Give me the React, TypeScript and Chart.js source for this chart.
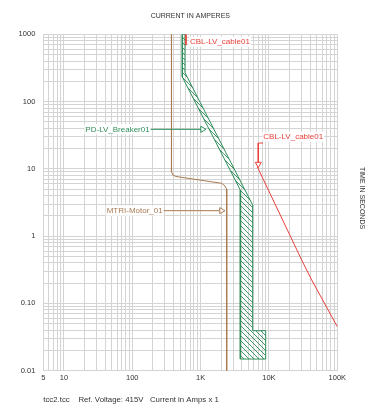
import React, { useEffect, useRef } from 'react';
import { Chart, registerables } from 'chart.js';

Chart.register(...registerables);

// ---- axis ticks ----
const xTickValues = [5, 10, 100, 1000, 10000, 100000];
const xTickLabels = ['5', '10', '100', '1K', '10K', '100K'];
const yTickValues = [0.01, 0.1, 1, 10, 100, 1000];
const yTickLabels = ['0.01', '0.10', '1', '10', '100', '1000'];

// ---- motor curve (MTRI-Motor_01) ----
const motorCurrent = [375, 375, 394, 437, 2036, 2275, 2410, 2410];
const motorTime = [1000, 9.08, 8.1, 7.7, 6.1, 5.56, 4.97, 0.01];

// ---- breaker band (PD-LV_Breaker01), closed outline ----
const breakerCurrent = [540, 540, 3810, 3810, 8960, 8960, 5780, 5780, 591, 591, 540];
const breakerTime = [1000, 232, 4.85, 0.0149, 0.0149, 0.0393, 0.0393, 2.9, 269, 1000, 1000];

// ---- cable damage curve (CBL-LV_cable01) ----
const cableCurrent = [6760, 10350, 30100, 42200, 100000];
const cableTime = [10.7, 4.33, 0.442, 0.223, 0.045];
const cableTopCurrent = [611, 611];
const cableTopTime = [1000, 690];

// ---- leaders ----
const breakerLeaderCurrent = [182, 1067];
const breakerLeaderTime = [38.7, 38.7];
const motorLeaderCurrent = [282, 2023];
const motorLeaderTime = [2.39, 2.39];
const cableLeaderCurrent = [8190, 6980, 6980];
const cableLeaderTime = [24.2, 24.2, 11.8];

// ---- curve labels ----
const labelTexts = ['CBL-LV_cable01', 'CBL-LV_cable01', 'PD-LV_Breaker01', 'MTRI-Motor_01'];
const labelCurrent = [700, 8260, 180, 279];
const labelTime = [776, 30.1, 38.7, 2.39];
const labelAlign = ['left', 'left', 'right', 'right'];

const titleText = 'CURRENT IN AMPERES';
const yTitleText = 'TIME IN SECONDS';
const footerText = 'tcc2.tcc    Ref. Voltage: 415V   Current in Amps x 1';

const RED = '#e8403a';
const GREEN = '#2f8f5a';
const BROWN = '#a87a52';
const GRID = '#d4d4d4';
const FONT = "'Liberation Sans', Arial, sans-serif";
const labelColors = [RED, RED, GREEN, BROWN];

function gridValues(min: number, max: number): number[] {
  const out: number[] = [];
  const e0 = Math.floor(Math.log10(min));
  const e1 = Math.ceil(Math.log10(max));
  for (let e = e0; e <= e1; e++) {
    for (let m = 1; m <= 9; m++) {
      const v = Number((m * Math.pow(10, e)).toPrecision(6));
      if (v >= min * 0.9999 && v <= max * 1.0001) out.push(v);
    }
  }
  return out;
}

function pts(xs: number[], ys: number[]) {
  return xs.map((x, i) => ({ x, y: ys[i] }));
}

function labelFor(values: number[], labels: string[]) {
  return (value: any) => {
    const v = Number(value);
    const i = values.findIndex((t) => Math.abs(t - v) / t < 1e-6);
    return i >= 0 ? labels[i] : '';
  };
}

export default function App() {
  const ref = useRef<HTMLCanvasElement | null>(null);

  useEffect(() => {
    const canvas = ref.current;
    if (!canvas) return;

    // hatch pattern for breaker band
    const pc = document.createElement('canvas');
    pc.width = 5;
    pc.height = 5;
    const pctx = pc.getContext('2d')!;
    pctx.strokeStyle = GREEN;
    pctx.lineWidth = 0.9;
    pctx.beginPath();
    pctx.moveTo(0, 0);
    pctx.lineTo(5, 5);
    pctx.moveTo(-1, 4);
    pctx.lineTo(1, 6);
    pctx.moveTo(4, -1);
    pctx.lineTo(6, 1);
    pctx.stroke();
    const pattern = canvas.getContext('2d')!.createPattern(pc, 'repeat')!;

    const xGrid = gridValues(5, 100000);
    const yGrid = gridValues(0.01, 1000);

    const textPlugin = {
      id: 'tccText',
      afterDatasetsDraw(chart: any) {
        const { ctx, chartArea, scales } = chart;
        const xs = scales.x;
        const ys = scales.y;
        ctx.save();
        // curve labels
        ctx.font = `8px ${FONT}`;
        ctx.textBaseline = 'middle';
        labelTexts.forEach((t, i) => {
          const px = xs.getPixelForValue(labelCurrent[i]);
          const py = ys.getPixelForValue(labelTime[i]);
          const w = ctx.measureText(t).width;
          const left = labelAlign[i] === 'left' ? px : px - w;
          ctx.fillStyle = '#ffffff';
          ctx.fillRect(left - 1, py - 5, w + 2, 10);
          ctx.fillStyle = labelColors[i];
          ctx.textAlign = 'left';
          ctx.fillText(t, left, py + 0.5);
        });
        // title
        ctx.fillStyle = '#333333';
        ctx.font = `7px ${FONT}`;
        ctx.textAlign = 'center';
        ctx.fillText(titleText, (chartArea.left + chartArea.right) / 2, chartArea.top - 18.5);
        // right axis title
        ctx.save();
        ctx.translate(chartArea.right + 24.4, (chartArea.top + chartArea.bottom) / 2 - 4.5);
        ctx.rotate(Math.PI / 2);
        ctx.fillText(yTitleText, 0, 0);
        ctx.restore();
        // footer
        ctx.font = `7.8px ${FONT}`;
        ctx.textAlign = 'left';
        ctx.fillText(footerText, chartArea.left, chartArea.bottom + 29);
        ctx.restore();
      },
    };

    const baseLine = {
      showLine: true,
      fill: false,
      borderWidth: 1,
      pointRadius: 0,
      pointHoverRadius: 0,
      tension: 0,
    };

    const chart = new Chart(canvas, {
      type: 'scatter',
      data: {
        datasets: [
          {
            ...baseLine,
            label: 'Breaker leader',
            data: pts(breakerLeaderCurrent, breakerLeaderTime),
            borderColor: GREEN,
            pointRadius: [0, 3.5],
            pointStyle: 'triangle',
            rotation: 90,
            pointBackgroundColor: '#ffffff',
            pointBorderColor: GREEN,
            pointBorderWidth: 1,
          },
          {
            ...baseLine,
            label: 'Motor leader',
            data: pts(motorLeaderCurrent, motorLeaderTime),
            borderColor: BROWN,
            pointRadius: [0, 3.5],
            pointStyle: 'triangle',
            rotation: 90,
            pointBackgroundColor: '#ffffff',
            pointBorderColor: BROWN,
            pointBorderWidth: 1,
          },
          {
            ...baseLine,
            label: 'Cable leader',
            data: pts(cableLeaderCurrent, cableLeaderTime),
            borderColor: RED,
            pointRadius: [0, 0, 3.5],
            pointStyle: 'triangle',
            rotation: 180,
            pointBackgroundColor: '#ffffff',
            pointBorderColor: RED,
            pointBorderWidth: 1,
          },
          {
            ...baseLine,
            label: 'CBL-LV_cable01',
            data: pts(cableCurrent, cableTime),
            borderColor: RED,
          },
          {
            ...baseLine,
            label: 'CBL-LV_cable01 top',
            data: pts(cableTopCurrent, cableTopTime),
            borderColor: RED,
          },
          {
            ...baseLine,
            label: 'PD-LV_Breaker01',
            data: pts(breakerCurrent, breakerTime),
            borderColor: GREEN,
            backgroundColor: pattern,
            fill: 'shape',
          },
          {
            ...baseLine,
            label: 'MTRI-Motor_01',
            data: pts(motorCurrent, motorTime),
            borderColor: BROWN,
          },
        ],
      },
      options: {
        animation: false,
        responsive: false,
        devicePixelRatio: 1,
        events: [],
        layout: { padding: { top: 34.3, right: 32.7, left: 0, bottom: 0 } },
        plugins: {
          legend: { display: false },
          tooltip: { enabled: false },
          title: { display: false },
        },
        scales: {
          x: {
            type: 'logarithmic',
            position: 'bottom',
            min: 5,
            max: 100000,
            afterBuildTicks: (axis: any) => {
              axis.ticks = xGrid.map((v) => ({ value: v }));
            },
            afterFit: (axis: any) => {
              axis.height = 39.3;
            },
            grid: { color: GRID, lineWidth: 1, drawTicks: false },
            border: { display: false },
            ticks: {
              autoSkip: false,
              maxRotation: 0,
              minRotation: 0,
              padding: 3,
              color: '#333333',
              font: { family: FONT, size: 7.5 },
              callback: labelFor(xTickValues, xTickLabels),
            },
          },
          y: {
            type: 'logarithmic',
            position: 'left',
            min: 0.01,
            max: 1000,
            afterBuildTicks: (axis: any) => {
              axis.ticks = yGrid.map((v) => ({ value: v }));
            },
            afterFit: (axis: any) => {
              axis.width = 43.3;
            },
            grid: { color: GRID, lineWidth: 1, drawTicks: false },
            border: { display: false },
            ticks: {
              autoSkip: false,
              padding: 8,
              color: '#333333',
              font: { family: FONT, size: 7.5 },
              callback: labelFor(yTickValues, yTickLabels),
            },
          },
        },
      } as any,
      plugins: [textPlugin],
    });

    return () => {
      chart.destroy();
    };
  }, []);

  return (
    <div style={{ position: 'absolute', left: 0, top: 0, width: 370, height: 410, background: '#ffffff' }}>
      <canvas ref={ref} width={370} height={410} style={{ width: 370, height: 410, display: 'block' }} />
    </div>
  );
}
